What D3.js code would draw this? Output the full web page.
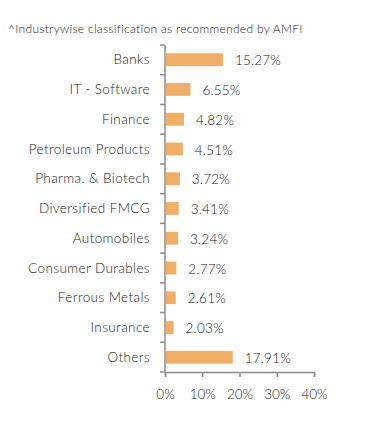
<!DOCTYPE html>
<html>
<head>
<meta charset="utf-8">
<script src="https://cdn.jsdelivr.net/npm/d3@7"></script>
<style>
  body { margin: 0; background: #fff; }
  text { font-family: Lato, "Open Sans", sans-serif; font-weight: 300; }
</style>
</head>
<body>
<div id="chart"></div>
<script>
var categories = ["Banks", "IT - Software", "Finance", "Petroleum Products", "Pharma. & Biotech",
    "Diversified FMCG", "Automobiles", "Consumer Durables", "Ferrous Metals", "Insurance", "Others"];
var values = [15.27, 6.55, 4.82, 4.51, 3.72, 3.41, 3.24, 2.77, 2.61, 2.03, 17.91];
var tickValues = [0, 10, 20, 30, 40];
var title = "^Industrywise classification as recommended by AMFI";

var margin = {top: 45, right: 77, bottom: 54, left: 165},
    width = 391 - margin.left - margin.right,
    height = 426 - margin.top - margin.bottom;

var root = d3.select("#chart")
  .append("svg")
    .attr("width", 391)
    .attr("height", 426);

root.append("text")
    .attr("x", 8)
    .attr("y", 33)
    .style("font-size", "12px")
    .style("letter-spacing", "0.3px")
    .style("fill", "#222")
    .text(title);

var svg = root.append("g")
    .attr("transform", "translate(" + margin.left + "," + margin.top + ")");

var x = d3.scaleLinear()
    .domain([0, 40])
    .range([0, width]);

var y = d3.scaleBand()
    .domain(categories)
    .range([0, height])
    .paddingInner(0.57)
    .paddingOuter(0.28);

// y axis: ticks between categories, drawn by hand like the source
var bounds = d3.range(categories.length + 1).map(function(i) { return i * height / categories.length; });
svg.append("line")
    .attr("x1", 0).attr("x2", 0)
    .attr("y1", 0).attr("y2", height)
    .attr("stroke", "#8c8c8c").attr("stroke-width", 1.5);
svg.selectAll(".ytick")
    .data(bounds)
    .enter()
    .append("line")
    .attr("class", "ytick")
    .attr("x1", -5).attr("x2", 0)
    .attr("y1", function(d) { return d; })
    .attr("y2", function(d) { return d; })
    .attr("stroke", "#8c8c8c").attr("stroke-width", 1.5);

svg.selectAll(".cat")
    .data(categories)
    .enter()
    .append("text")
    .attr("class", "cat")
    .attr("x", -15)
    .attr("y", function(d) { return y(d) + y.bandwidth() / 2; })
    .attr("dy", "0.35em")
    .attr("text-anchor", "end")
    .style("font-size", "13.5px")
    .style("letter-spacing", "0.4px")
    .style("fill", "#222")
    .text(function(d) { return d; });

// x axis
var xAxis = svg.append("g")
    .attr("transform", "translate(0," + height + ")")
    .call(d3.axisBottom(x).tickValues(tickValues).tickSize(5).tickPadding(12)
        .tickFormat(function(d) { return d + "%"; }));
xAxis.select(".domain").attr("stroke", "#8c8c8c").attr("stroke-width", 1.5);
xAxis.selectAll(".tick line").attr("stroke", "#8c8c8c").attr("stroke-width", 1.5);
xAxis.selectAll(".tick text")
    .style("font-family", "Lato, 'Open Sans', sans-serif")
    .style("font-weight", "300")
    .style("font-size", "13.5px")
    .style("fill", "#222");

svg.selectAll(".bar")
    .data(values)
    .enter()
    .append("rect")
    .attr("class", "bar")
    .attr("x", 1)
    .attr("y", function(d, i) { return y(categories[i]); })
    .attr("width", function(d) { return x(d); })
    .attr("height", y.bandwidth())
    .style("fill", "#f0ae66");

svg.selectAll(".val")
    .data(values)
    .enter()
    .append("text")
    .attr("class", "val")
    .attr("x", function(d) { return x(d) + 13; })
    .attr("y", function(d, i) { return y(categories[i]) + y.bandwidth() / 2 + 1; })
    .attr("dy", "0.35em")
    .style("font-size", "13.5px")
    .style("letter-spacing", "0.2px")
    .style("fill", "#222")
    .text(function(d) { return d.toFixed(2) + "%"; });
</script>
</body>
</html>
